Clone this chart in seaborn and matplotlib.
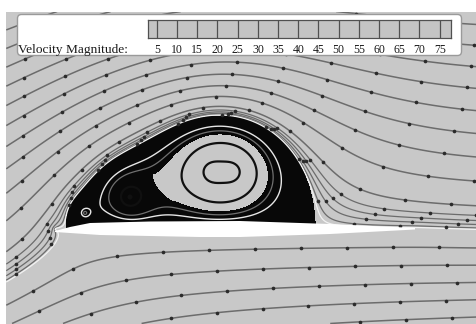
import numpy as np
import matplotlib
matplotlib.use("Agg")
import matplotlib.pyplot as plt
from matplotlib.patches import FancyBboxPatch, Polygon
import seaborn as sns

sns.set_theme(style="white")
plt.rcParams["font.family"] = ["Liberation Serif", "DejaVu Serif"]

# ---- colour key -------------------------------------------------------
speed_ticks = [5, 10, 15, 20, 25, 30, 35, 40, 45, 50, 55, 60, 65, 70, 75]
speed_span = [2.8, 77.8]
key_title = "Velocity Magnitude:"

# ---- wing section outline (chord frame: x along chord, y normal) ---------
upper_x = [-180, -165, -145, -85, 5, 95, 180]
upper_y = [-2, 2, 6, 7.5, 8, 5, 1]
lower_x = [-180, -135, -35, 5, 95, 180]
lower_y = [-3, -6, -8, -8, -5, -0.5]

# ---- flow model ---------------------------------------------------------
chord = 360.0
alpha_deg = 10.0
u_inf = 1.0
# separation-bubble vortices: twin main cores, forward cell, leading-edge eddy (clockwise < 0)
vortex_x = [-23.0, -3.0, -105.0, -150.0]
vortex_y = [57.0, 57.0, 32.0, 16.0]
vortex_gamma = [-355.0, -355.0, -300.0, -90.0]

view_x = [-229.0, 242.0]
view_y = [-95.0, 217.0]

step_above = 22.0
step_below = 15.0
near_offsets = [2.5, 5.5, 9.0, 13.5]
band_point = [-13.0, 95.0]
core_centre = [-13.0, 57.0]
core_radii = [70.0, 42.0]
ring_points = [[-13.0, 86.0], [-13.0, 67.5]]
split_point = [-70.0, 22.0]
eddy_point = [-150.0, 20.5]

a = chord / 4.0
alpha = np.radians(alpha_deg)


def to_circle(z):
    return 0.5 * (z + np.sqrt(z - 2 * a) * np.sqrt(z + 2 * a))


cores = [to_circle(complex(x, y)) for x, y in zip(vortex_x, vortex_y)]
images = [a ** 2 / np.conj(c) for c in cores]
B = sum(g / (2 * np.pi) * (1 / (a - c) - 1 / (a - im)).real
        for g, c, im in zip(vortex_gamma, cores, images))
gamma_bound = -2 * np.pi * a * (2 * u_inf * np.sin(alpha) + B)


def stream(z):
    s = to_circle(z)
    w = u_inf * (s * np.exp(-1j * alpha) + a ** 2 * np.exp(1j * alpha) / s)
    out = w.imag - gamma_bound / (2 * np.pi) * np.log(np.abs(s))
    for g, c, im in zip(vortex_gamma, cores, images):
        out = out - g / (2 * np.pi) * (np.log(np.abs(s - c)) - np.log(np.abs(s - im)))
    return out


xs = np.arange(view_x[0], view_x[1] + 1, 1.0) + 0.25
ys = np.arange(view_y[0], view_y[1] + 1, 1.0) + 0.5
X, Y = np.meshgrid(xs, ys)
psi = stream(X + 1j * Y)
psi_s = stream(complex(0.0, 1e-7))

bubble = (Y > 0) & (X > -a * 2 - 6) & (psi < psi_s)
psi_out = np.ma.masked_where(bubble, psi)
psi_in = np.ma.masked_where(~bubble, psi)

d_band = max(psi_s - stream(complex(*band_point)), 1.0)
ellipse = ((X - core_centre[0]) / core_radii[0]) ** 2 + ((Y - core_centre[1]) / core_radii[1]) ** 2
core_field = np.maximum((psi - (psi_s - d_band)) / d_band, ellipse - 1.0)
dark = np.where(bubble, core_field, -1.0)

# ---- figure -------------------------------------------------------------
W_PX, H_PX = 477, 324
fig = plt.figure(figsize=(W_PX / 100, H_PX / 100), dpi=100, facecolor="white")
ax = fig.add_axes([6 / W_PX, 0, 471 / W_PX, 312 / H_PX])
ax.set_facecolor("#c8c8c8")
ax.set_xlim(view_x)
ax.set_ylim(view_y)
ax.set_xticks([])
ax.set_yticks([])
for sp in ax.spines.values():
    sp.set_visible(False)

line_col = "#6c6c6c"
upper_levels = psi_s + step_above * np.arange(1, 25)
lower_levels = psi_s - step_below * np.arange(30, 0, -1)
cs_up = ax.contour(X, Y, psi, levels=upper_levels, colors=line_col, linewidths=1.1)
cs_lo = ax.contour(X, Y, psi_out, levels=lower_levels, colors=line_col, linewidths=1.1)
cs_near = ax.contour(X, Y, psi, levels=psi_s + np.array(near_offsets), colors=line_col, linewidths=0.9)
ax.contour(X, Y, psi, levels=[psi_s + 1.2], colors="#f2f2f2", linewidths=0.9)

# separation bubble: dense band, cell divider, leading-edge eddy and closed rings
ax.contourf(X, Y, dark, levels=[0.0, 1e9], colors="#080808")
ax.contour(X, Y, psi_in, levels=[stream(complex(*split_point))], colors="#707070", linewidths=0.9)
ax.contour(X, Y, psi_in, levels=[stream(complex(*eddy_point))], colors="#e6e6e6", linewidths=1.0)
ring_levels = sorted(stream(complex(*p)) for p in ring_points)
ax.contour(X, Y, psi_in, levels=ring_levels, colors="#101010", linewidths=1.6)


def dots_along(cs, step, phase):
    pts = []
    for p in cs.get_paths():
        for poly in p.to_polygons(closed_only=False):
            if len(poly) < 2:
                continue
            seg = np.hypot(*np.diff(poly, axis=0).T)
            s = np.concatenate([[0], np.cumsum(seg)])
            if s[-1] < step * 0.6:
                continue
            t = np.arange(phase, s[-1], step)
            pts.append(np.column_stack([np.interp(t, s, poly[:, 0]), np.interp(t, s, poly[:, 1])]))
    return np.vstack(pts) if pts else np.empty((0, 2))


dots = np.vstack([dots_along(cs_up, 46, 20), dots_along(cs_lo, 46, 30), dots_along(cs_near, 46, 12)])
sns.scatterplot(x=dots[:, 0], y=dots[:, 1], s=7, color="#2b2b2b", linewidth=0, ax=ax, legend=False, zorder=3)

# wing section
outline = np.column_stack([upper_x + lower_x[::-1], upper_y + lower_y[::-1]])
ax.add_patch(Polygon(outline, closed=True, facecolor="white", edgecolor="none", zorder=4))

# ---- colour key -----------------------------------------------------------
kx0, kx1, ky0, ky1 = 16, 463, 13, 57
kax = fig.add_axes([kx0 / W_PX, 1 - ky1 / H_PX, (kx1 - kx0) / W_PX, (ky1 - ky0) / H_PX])
kax.set_xlim(kx0, kx1)
kax.set_ylim(ky1, ky0)
kax.axis("off")
kax.add_patch(FancyBboxPatch((kx0 + 1.5, ky0 + 1.5), kx1 - kx0 - 3, ky1 - ky0 - 3,
                             boxstyle="round,pad=0,rounding_size=4",
                             facecolor="white", edgecolor="#9a9a9a", linewidth=1.0))
kax.text(18, 53.5, key_title, fontsize=9.6, va="baseline", ha="left", color="#1a1a1a")

cx0, cx1, cy0, cy1 = 148, 451, 20, 38
cax = fig.add_axes([cx0 / W_PX, 1 - cy1 / H_PX, (cx1 - cx0) / W_PX, (cy1 - cy0) / H_PX])
cax.set_xlim(speed_span)
cax.set_ylim(0, 1)
cax.set_facecolor("#c4c4c4")
cax.vlines(speed_ticks, 0, 1, colors="#505050", linewidth=0.9)
cax.set_yticks([])
cax.set_xticks(speed_ticks)
cax.set_xticklabels([str(v) for v in speed_ticks], fontsize=8.5, color="#1a1a1a")
cax.tick_params(axis="x", length=0, pad=4.5)
for sp in cax.spines.values():
    sp.set_visible(True)
    sp.set_color("#505050")
    sp.set_linewidth(0.9)

fig.savefig("out.png", dpi=100, facecolor="white")
